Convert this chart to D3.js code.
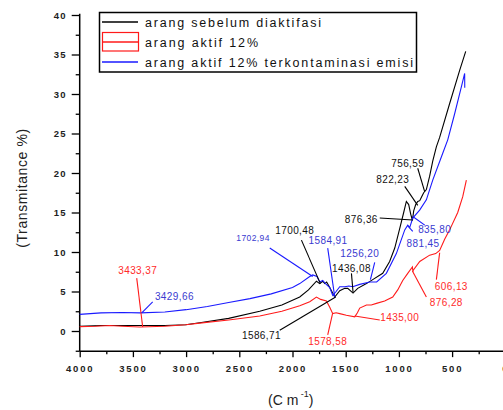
<!DOCTYPE html>
<html>
<head>
<meta charset="utf-8">
<script src="https://cdn.jsdelivr.net/npm/d3@7/dist/d3.min.js"></script>
<style>
  body { margin: 0; background: #fff; }
  text { font-family: "Liberation Sans", Arial, sans-serif; }
</style>
</head>
<body>
<div id="chart"></div>
<script>
// wavenumber (cm-1) and transmittance (%)
var blackWn = [4000,3800,3500,3200,3004,2872,2600,2308,2100,1932,1850,1775,1744,1716,1697,1679,1650,1603,1556,1509,1481,1431,1387,1305,1246,1152,1087,1039,992,955,930,908,889,873,861,842,823,804,786,767,742,711,682,648,617,523,429,372];
var blackT  = [0.6,0.7,0.7,0.7,0.8,1.05,1.6,2.5,3.3,4.3,5.2,6.3,6.0,6.3,6.0,6.2,5.5,4.3,5.1,5.4,5.4,4.8,5.4,6.0,6.5,7.3,8.8,10.5,13.0,15.0,16.4,16.0,14.8,14.0,15.2,16.0,16.4,16.5,17.0,17.5,17.9,19.6,21.5,23.3,24.5,28.8,33.0,35.4];

var redWn = [4000,3850,3718,3600,3436,3200,3004,2872,2600,2308,2100,1932,1838,1775,1735,1681,1650,1622,1590,1556,1494,1415,1390,1368,1305,1260,1211,1134,1058,1011,964,917,873,868,865,804,711,654,617,570,523,447,400,366];
var redT  = [0.55,0.6,0.7,0.6,0.5,0.6,0.8,1.0,1.4,1.9,2.5,3.2,3.7,4.3,4.0,3.8,3.0,2.2,2.3,2.2,2.0,1.8,2.3,2.9,3.3,3.3,3.5,3.8,4.3,5.2,6.4,7.3,8.1,7.5,7.7,8.8,9.6,9.8,10.2,11.6,12.8,15.0,17.0,19.1];

var blueWn = [4000,3800,3600,3430,3200,3000,2800,2600,2400,2200,2000,1932,1838,1810,1770,1744,1716,1690,1650,1622,1590,1556,1509,1470,1434,1368,1274,1209,1118,1024,945,917,898,870,805,742,682,588,541,476,413,382,381];
var blueT  = [2.1,2.3,2.35,2.3,2.4,2.7,3.1,3.6,4.1,4.7,5.5,6.0,6.9,7.1,6.9,6.2,6.4,6.0,5.5,4.5,5.0,5.6,5.6,5.7,5.6,5.9,6.2,6.2,7.3,9.8,12.8,13.4,13.1,14.3,15.3,16.6,19.1,22.5,24.2,27.5,30.9,32.6,30.8];

var legendLabels = ["arang sebelum diaktifasi", "arang aktif 12%", "arang aktif 12% terkontaminasi emisi"];
var xMajor = [4000,3500,3000,2500,2000,1500,1000,500,0];
var xMinor = [3750,3250,2750,2250,1750,1250,750,250];
var yMajor = [0,5,10,15,20,25,30,35,40];
var yMinor = [-2.5,2.5,7.5,12.5,17.5,22.5,27.5,32.5,37.5];

// peak labels: text, series, label point, leader line start and end (wn, T)
var annotations = [
  {t:"3433,37", s:"red",   lx:3455, ly:7.2,  x1:3464, y1:6.7,  x2:3408, y2:0.5},
  {t:"3429,66", s:"blue",  lx:3110, ly:3.9,  x1:3314, y1:3.7,  x2:3417, y2:2.3},
  {t:"1702,94", s:"blue",  lx:2371, ly:11.4, x1:2214, y1:10.5, x2:1810, y2:6.9, small:true},
  {t:"1700,48", s:"black", lx:1979, ly:12.3, x1:1916, y1:11.5, x2:1738, y2:6.0},
  {t:"1584,91", s:"blue",  lx:1666, ly:11.0, x1:1669, y1:10.5, x2:1603, y2:4.3},
  {t:"1256,20", s:"blue",  lx:1368, ly:9.4,  x1:1227, y1:8.7,  x2:1268, y2:6.5},
  {t:"1436,08", s:"black", lx:1446, ly:7.5,  x1:1446, y1:7.3,  x2:1431, y2:4.9},
  {t:"1586,71", s:"black", lx:2292, ly:-1.0, x1:2120, y1:0.1,  x2:1594, y2:4.3},
  {t:"1578,58", s:"red",   lx:1669, ly:-1.8, x1:1669, y1:-0.5, x2:1622, y2:2.3},
  {t:"1435,00", s:"red",   lx:992,  ly:1.3,  x1:1415, y1:1.9,  x2:1180, y2:1.4},
  {t:"876,28",  s:"red",   lx:554,  ly:3.2,  x1:742,  y1:4.3,  x2:873,  y2:7.6},
  {t:"606,13",  s:"red",   lx:507,  ly:5.2,  x1:648,  y1:6.5,  x2:617,  y2:9.9},
  {t:"881,45",  s:"blue",  lx:773,  ly:10.6, x1:870,  y1:12.6, x2:917,  y2:13.3},
  {t:"835,80",  s:"blue",  lx:664,  ly:12.4, x1:757,  y1:13.4, x2:870,  y2:14.5},
  {t:"876,36",  s:"black", lx:1353, ly:13.7, x1:1180, y1:14.3, x2:870,  y2:14.05},
  {t:"822,23",  s:"black", lx:1058, ly:18.7, x1:945,  y1:18.3, x2:823,  y2:15.9},
  {t:"756,59",  s:"black", lx:917,  ly:20.8, x1:823,  y1:20.6, x2:757,  y2:17.6}
];

var lineColor = {black:"#000000", red:"#ff1a1a", blue:"#1a1aff"};
var textColor = {black:"#111111", red:"#ff2a2a", blue:"#3a3ad0"};

var W = 503, H = 410;
var svg = d3.select("#chart").append("svg").attr("width", W).attr("height", H);

var x = d3.scaleLinear().domain([4000, 0]).range([79.7, 505.3]);
var y = d3.scaleLinear().domain([0, 40]).range([331, 15]);

function zip(a, b){ return a.map(function(v, i){ return [v, b[i]]; }); }
var line = d3.line().x(function(d){ return x(d[0]); }).y(function(d){ return y(d[1]); });

// axes
var axisG = svg.append("g").attr("class", "axes");
var xBase = y(-2.55);

var xAx = axisG.append("g").attr("transform", "translate(0," + xBase + ")")
  .call(d3.axisBottom(x).tickValues(xMajor).tickSize(6).tickFormat(d3.format("d")));
axisG.append("g").attr("transform", "translate(0," + xBase + ")")
  .call(d3.axisBottom(x).tickValues(xMinor).tickSize(3).tickFormat(""));
var yAx = axisG.append("g").attr("transform", "translate(" + x(4000) + ",0)")
  .call(d3.axisLeft(y).tickValues(yMajor).tickSize(8).tickFormat(d3.format("d")));
axisG.append("g").attr("transform", "translate(" + x(4000) + ",0)")
  .call(d3.axisLeft(y).tickValues(yMinor).tickSize(4).tickFormat(""));

axisG.selectAll(".domain").remove();
axisG.selectAll(".tick line").attr("stroke", "#000").attr("stroke-width", 1.3);
axisG.append("line").attr("x1", x(4000)).attr("x2", W).attr("y1", xBase).attr("y2", xBase)
  .attr("stroke", "#000").attr("stroke-width", 1.5);
axisG.append("line").attr("x1", x(4000)).attr("x2", x(4000)).attr("y1", y(40.15)).attr("y2", xBase)
  .attr("stroke", "#000").attr("stroke-width", 1.5);

xAx.selectAll("text").attr("font-size", 9.5).attr("letter-spacing", "1.8px")
  .attr("fill", "#222").attr("font-weight", "bold").attr("dy", "1.25em");
yAx.selectAll("text").attr("font-size", 9.5).attr("letter-spacing", "1.2px")
  .attr("fill", "#222").attr("font-weight", "bold").attr("x", -13);

// axis titles
svg.append("text").attr("transform", "translate(27,188) rotate(-90)")
  .attr("text-anchor", "middle").attr("font-size", 14).attr("fill", "#222")
  .attr("letter-spacing", "0.6px").text("(Transmitance %)");
var xt = svg.append("text").attr("x", 268).attr("y", 405).attr("font-size", 14).attr("fill", "#222");
xt.append("tspan").text("(C m");
xt.append("tspan").attr("dy", -8).attr("font-size", 9).text(" -1");
xt.append("tspan").attr("dy", 8).text(")");

// series
var series = [
  {key:"black", data: zip(blackWn, blackT)},
  {key:"red",   data: zip(redWn, redT)},
  {key:"blue",  data: zip(blueWn, blueT)}
];
svg.append("g").selectAll("path").data(series).enter().append("path")
  .attr("d", function(d){ return line(d.data); })
  .attr("fill", "none")
  .attr("stroke", function(d){ return lineColor[d.key]; })
  .attr("stroke-width", 1.1);

// annotations
var ann = svg.append("g").selectAll("g").data(annotations).enter().append("g");
ann.append("line")
  .attr("x1", function(d){ return x(d.x1); }).attr("y1", function(d){ return y(d.y1); })
  .attr("x2", function(d){ return x(d.x2); }).attr("y2", function(d){ return y(d.y2); })
  .attr("stroke", function(d){ return lineColor[d.s]; }).attr("stroke-width", 1.1);
ann.append("text")
  .attr("x", function(d){ return x(d.lx); }).attr("y", function(d){ return y(d.ly); })
  .attr("text-anchor", "middle")
  .attr("font-size", function(d){ return d.small ? 8.5 : 10; })
  .attr("letter-spacing", "0.4px")
  .attr("fill", function(d){ return textColor[d.s]; })
  .text(function(d){ return d.t; });

// legend
var lg = svg.append("g");
lg.append("rect").attr("x", 99.5).attr("y", 12.5).attr("width", 317).attr("height", 59.5)
  .attr("fill", "#fff").attr("stroke", "#000").attr("stroke-width", 1.5);
var rowsY = [22, 42, 62];
var legendWidths = [176, 113, 268];
series.forEach(function(s, i){
  if (s.key === "red") {
    lg.append("rect").attr("x", 102.5).attr("y", 32.5).attr("width", 36).attr("height", 18.5)
      .attr("fill", "none").attr("stroke", lineColor.red).attr("stroke-width", 1.2);
  }
  lg.append("line").attr("x1", 102).attr("x2", 138).attr("y1", rowsY[i]).attr("y2", rowsY[i])
    .attr("stroke", lineColor[s.key]).attr("stroke-width", 1.3);
  lg.append("text").attr("x", 145).attr("y", rowsY[i] + 4.5)
    .attr("font-size", 12.5).attr("fill", "#111")
    .attr("textLength", legendWidths[i]).attr("lengthAdjust", "spacing")
    .text(legendLabels[i]);
});
</script>
</body>
</html>
